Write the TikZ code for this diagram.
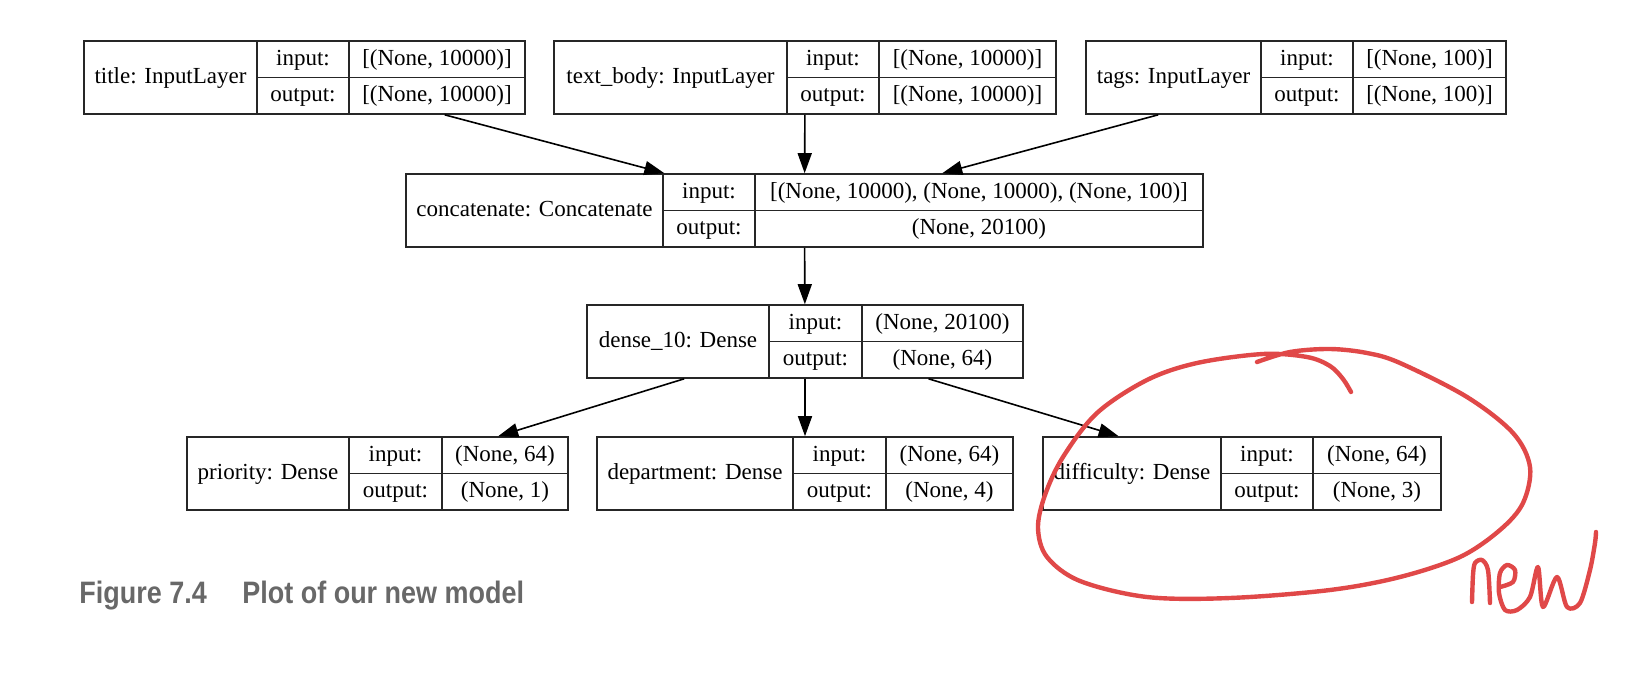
\documentclass[tikz,border=0pt]{standalone}
\usepackage{fontspec}
\setmainfont{Liberation Serif}
\newfontfamily\captionfont{Liberation Sans}
\usetikzlibrary{arrows.meta,fit}
\definecolor{penred}{RGB}{224,72,72}
\definecolor{captiongray}{RGB}{104,104,104}

\begin{document}
\begin{tikzpicture}[x=0.5pt, y=-0.5pt, font=\fontsize{11.5}{13}\selectfont]
% Keras model plot, coordinates in pixels of the plot
\def\recordh{73}
\providecommand{\plotLineColor}{black!85}
\providecommand{\plotLineWidth}{0.8pt}
\providecommand{\penWidth}{2.2pt}
\tikzset{
  record/.style={draw=\plotLineColor, line width=\plotLineWidth, inner sep=0pt},
  cell/.style={inner sep=0pt, text height=0.8em, text depth=0.2em},
  link/.style={draw=black, line width=\plotLineWidth, -{Triangle[length=10pt,width=7pt]}},
  pen/.style={draw=penred, line width=\penWidth, line cap=round, line join=round},
  capstyle/.style={font=\captionfont\bfseries\fontsize{15.5}{18}\selectfont,
    text=captiongray, inner sep=0pt, anchor=base west}
}
% #1 name, #2-#5 column edges, #6 top, #7 label, #8 input, #9 output
\newcommand{\layerRecord}[9]{
  \node[record, fit={(#2,#6) (#5,#6+\recordh)}] (#1) {};
  \begin{scope}[draw=\plotLineColor, line width=\plotLineWidth]
    \draw (#3,#6) -- (#3,#6+\recordh);
    \draw (#4,#6) -- (#4,#6+\recordh);
    \draw (#3,#6+\recordh/2) -- (#5,#6+\recordh/2);
  \end{scope}
  \node[cell] (#1-label) at ({(#2+#3)/2},{#6+\recordh/2}) {#7};
  \node[cell] (#1-inkey) at ({(#3+#4)/2},{#6+\recordh/4}) {input:};
  \node[cell] (#1-outkey) at ({(#3+#4)/2},{#6+3*\recordh/4}) {output:};
  \node[cell] (#1-in) at ({(#4+#5)/2},{#6+\recordh/4}) {#8};
  \node[cell] (#1-out) at ({(#4+#5)/2},{#6+3*\recordh/4}) {#9};
}
\useasboundingbox (0,0) rectangle (1640,686);
% Input layers
\layerRecord{title}{84}{257}{349}{525}{41}{title: InputLayer}{[(None, 10000)]}{[(None, 10000)]}
\layerRecord{textbody}{554}{787}{879}{1056}{41}{text\_body: InputLayer}{[(None, 10000)]}{[(None, 10000)]}
\layerRecord{tags}{1086}{1261}{1353}{1506}{41}{tags: InputLayer}{[(None, 100)]}{[(None, 100)]}
% Hidden layers
\layerRecord{concat}{406}{663}{755}{1203}{174}{concatenate: Concatenate}{[(None, 10000), (None, 10000), (None, 100)]}{(None, 20100)}
\layerRecord{dense}{587}{769}{862}{1023}{305}{dense\_10: Dense}{(None, 20100)}{(None, 64)}
% Output layers
\layerRecord{priority}{187}{349}{442}{568}{437}{priority: Dense}{(None, 64)}{(None, 1)}
\layerRecord{department}{597}{793}{886}{1013}{437}{department: Dense}{(None, 64)}{(None, 4)}
\layerRecord{difficulty}{1043}{1221}{1313}{1441}{437}{difficulty: Dense}{(None, 64)}{(None, 3)}
% Edges
\draw[link] (title) -- (concat);
\draw[link] (textbody) -- (concat);
\draw[link] (tags) -- (concat);
\draw[link] (concat) -- (dense);
\draw[link] (dense) -- (priority);
\draw[link] (dense) -- (department);
\draw[link] (dense) -- (difficulty);
% Caption
\node[capstyle] (fignum) at (79,603) {\scalebox{0.87}[1]{Figure 7.4}};
\node[capstyle] (figtitle) at (242,603) {\scalebox{0.87}[1]{Plot of our new model}};
% Hand drawn marker
\draw[pen] plot[smooth, tension=0.55] coordinates {
  (1257,362) (1290,352) (1330,349) (1367,353) (1400,363) (1467,397)
  (1513,433) (1530,467) (1523,503) (1500,530) (1460,557) (1400,577)
  (1330,590) (1230,598) (1147,597) (1080,581) (1047,557) (1038,528)
  (1045,495) (1063,457) (1097,413) (1147,380) (1197,363) (1263,354)
  (1307,357) (1330,366) (1343,379) (1351,392)};
\draw[pen] plot[smooth, tension=0.5] coordinates {
  (1472,602) (1473,575) (1475,563) (1482,560) (1488,570) (1490,603)};
\draw[pen] plot[smooth, tension=0.5] coordinates {
  (1500,587) (1513,582) (1515,570) (1507,565) (1500,573) (1499,593)
  (1505,610) (1517,610) (1530,597) (1538,567) (1543,607) (1557,577)
  (1567,607) (1580,603) (1590,570) (1595,543) (1596,532)};
\end{tikzpicture}
\end{document}
